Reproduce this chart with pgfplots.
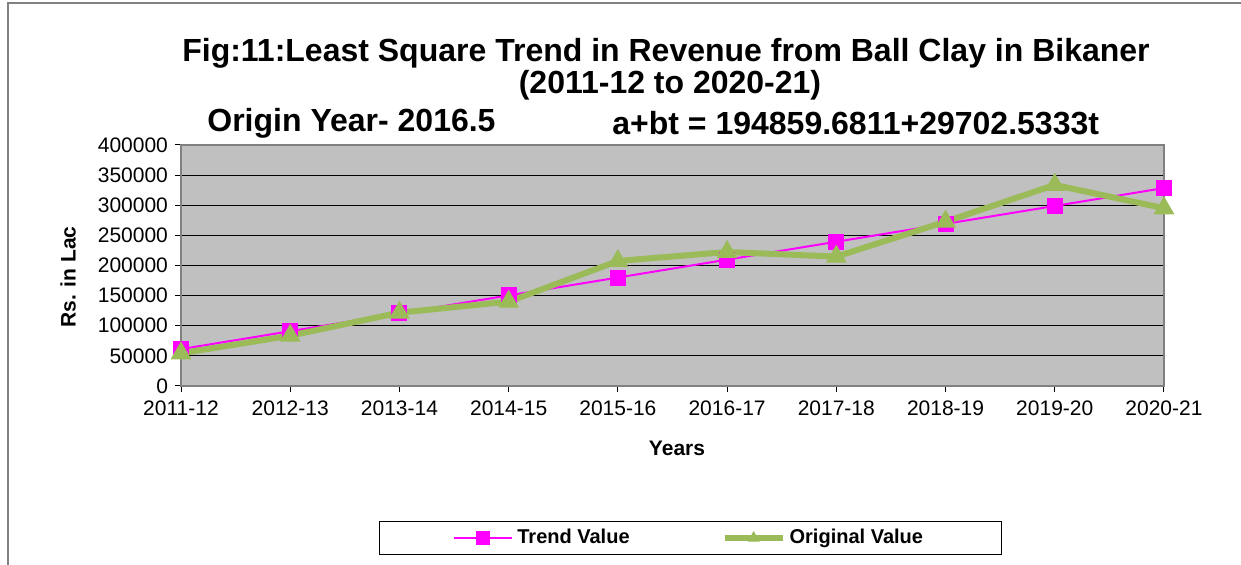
\documentclass[border=0pt]{standalone}
\usepackage{fontspec}
\setmainfont{Liberation Sans}
\usepackage{pgfplots}
\pgfplotsset{compat=1.18}
\definecolor{trendmag}{HTML}{FF00FF}
\definecolor{origgreen}{HTML}{9BBB59}
\definecolor{plotgrey}{HTML}{C0C0C0}
\definecolor{framegrey}{HTML}{808080}
\begin{document}
\begin{tikzpicture}[x=1pt,y=1pt]
\useasboundingbox (0,0) rectangle (620.5,282.5);
\draw[framegrey, line width=1pt] (4,0) -- (4,281) -- (620.5,281);
\begin{axis}[
  at={(90.5pt,89.5pt)}, anchor=south west,
  scale only axis, width=491.5pt, height=120.5pt,
  xmin=0, xmax=9, ymin=0, ymax=400000,
  xtick={0,...,9},
  xticklabels={2011-12,2012-13,2013-14,2014-15,2015-16,2016-17,2017-18,2018-19,2019-20,2020-21},
  ytick={0,50000,...,400000},
  scaled y ticks=false,
  /pgf/number format/assume math mode=true,
  yticklabel style={/pgf/number format/fixed,/pgf/number format/1000 sep={}},
  xticklabel style={yshift=-1pt},
  ticklabel style={font=\fontsize{10.5}{12}\selectfont},
  tick align=outside, xtick pos=bottom, ytick pos=left,
  major tick length=3pt, tick style={black, line width=0.5pt},
  axis background/.style={fill=plotgrey},
  axis line style={framegrey, line width=1pt},
  ymajorgrids, major grid style={black, line width=0.6pt},
  clip=false,
  legend columns=2,
  legend style={at={(0.518,-0.631)}, anchor=center, draw=black, line width=0.5pt,
    font=\bfseries\fontsize{10}{12}\selectfont, inner xsep=37pt, inner ysep=2pt,
    /tikz/every even column/.append style={column sep=44pt}},
  legend image code/.code={\draw[mark repeat=2,mark phase=2,#1,mark size=3pt] plot coordinates {(0pt,0pt) (14.5pt,0pt) (29pt,0pt)};},
]
\addplot[trendmag, line width=1pt, mark=square*, mark size=3.5pt, mark options={solid}] coordinates {
(0,61198.3) (1,90900.8) (2,120603.3) (3,150305.9) (4,180008.4)
(5,209711.0) (6,239413.5) (7,269116.0) (8,298818.6) (9,328521.1)};
\addlegendentry{Trend Value}
\addplot[origgreen, line width=3pt, mark=triangle*, mark size=5.5pt, mark options={solid, line width=0.5pt}] coordinates {
(0,54300) (1,83500) (2,121700) (3,140000) (4,207500)
(5,222400) (6,214700) (7,272800) (8,333700) (9,295000)};
\addlegendentry{Original Value}
\end{axis}
\node[font=\bfseries\fontsize{16}{19}\selectfont] at (333,256) {Fig:11:Least Square Trend in Revenue from Ball Clay in Bikaner};
\node[font=\bfseries\fontsize{16}{19}\selectfont] at (335,240) {(2011-12 to 2020-21)};
\node[font=\bfseries\fontsize{16}{19}\selectfont, anchor=west, inner sep=0pt] at (103.5,221) {Origin Year- 2016.5};
\node[font=\bfseries\fontsize{16}{19}\selectfont, anchor=west, inner sep=0pt] at (306,221) {a+bt = 194859.6811+29702.5333t};
\node[font=\bfseries\fontsize{10.5}{12}\selectfont, rotate=90] at (34,144) {Rs. in Lac};
\node[font=\bfseries\fontsize{10.5}{12}\selectfont] at (338.5,58.5) {Years};
\end{tikzpicture}
\end{document}
